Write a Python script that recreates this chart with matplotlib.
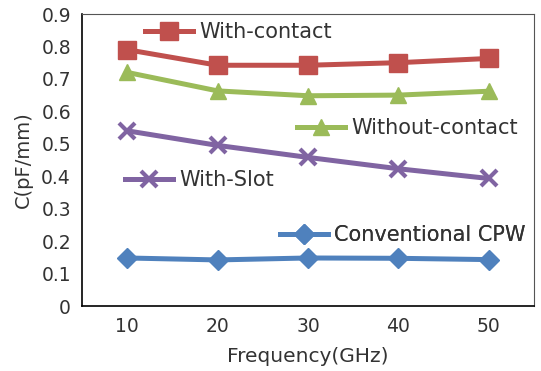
import matplotlib
matplotlib.use("Agg")
import matplotlib.pyplot as plt

# data
freq = [10, 20, 30, 40, 50]
with_contact = [0.79, 0.742, 0.742, 0.75, 0.763]
without_contact = [0.72, 0.663, 0.648, 0.65, 0.662]
with_slot = [0.54, 0.495, 0.458, 0.423, 0.393]
conv_cpw = [0.148, 0.142, 0.148, 0.147, 0.143]

names = ["With-contact", "Without-contact", "With-Slot", "Conventional CPW"]
colors = ["#C0504D", "#9BBB59", "#8064A2", "#4F81BD"]
markers = ["s", "^", "x", "D"]
msizes = [13, 12, 11, 10]

plt.rcParams['font.family'] = ['DejaVu Sans']

fig = plt.figure(figsize=(5.41, 3.71), dpi=100)
ax = fig.add_axes([82/541, 1-306/371, (534-82)/541, (306-14)/371])

series = [with_contact, without_contact, with_slot, conv_cpw]
handles = []
for vals, c, m, ms, nm in zip(series, colors, markers, msizes, names):
    ln, = ax.plot(freq, vals, color=c, lw=3.6, marker=m, ms=ms,
                  mew=3 if m == "x" else 1, mec=c, mfc=c, label=nm)
    handles.append(ln)

ax.set_xlim(5, 55)
ax.set_ylim(0, 0.9)
ax.set_xticks(freq)
ax.set_yticks([i/10 for i in range(10)])
ax.set_yticklabels(["0"] + ["%.1f" % (i/10) for i in range(1, 10)])
ax.tick_params(length=0, labelsize=13.5, colors="#333333", pad=8)
for s in ["top", "right"]:
    ax.spines[s].set_color("#555555")
for s in ["left", "bottom"]:
    ax.spines[s].set_color("black")
    ax.spines[s].set_linewidth(1.2)

ax.set_xlabel("Frequency(GHz)", fontsize=14.5, color="#333333", labelpad=8)
ax.set_ylabel("C(pF/mm)", fontsize=14, color="#333333", labelpad=6)

# legend entries scattered inside the plot, one at a time
spots = [(145, 32), (297, 128), (125, 180), (280, 235)]
for h, (px, py) in zip(handles, spots):
    leg = ax.legend([h], [h.get_label()], loc="center left",
                    bbox_to_anchor=(px/541, 1-py/371), bbox_transform=fig.transFigure,
                    frameon=False, fontsize=15, handlelength=2.3, handletextpad=0.3,
                    borderpad=0, borderaxespad=0)
    for t in leg.get_texts():
        t.set_color("#333333")
    ax.add_artist(leg)

fig.savefig("out.png", dpi=100)
